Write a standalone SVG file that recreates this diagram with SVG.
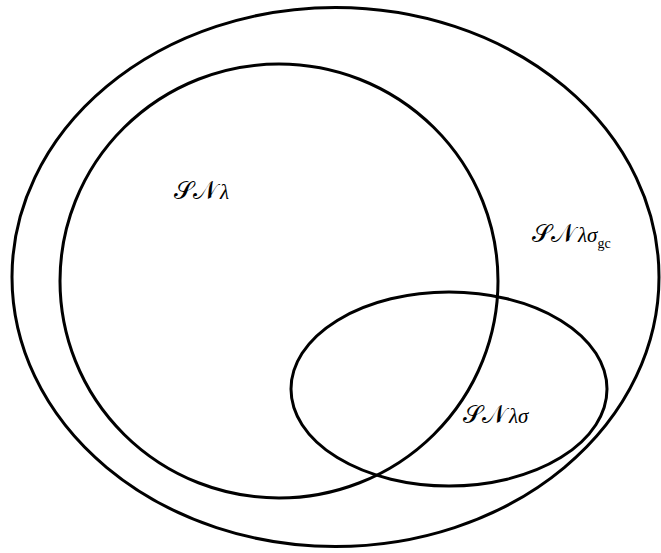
<svg xmlns="http://www.w3.org/2000/svg" width="661" height="553" viewBox="0 0 661 553">
<style>
.s{fill:none;stroke:#000;stroke-width:3}
.t{font-family:"DejaVu Serif","Liberation Serif",serif;font-size:25px;fill:#000}
.g{font-family:"Liberation Serif",serif;font-size:21px;font-style:italic}
.sub{font-family:"Liberation Serif",serif;font-size:14px}
</style>
<rect width="661" height="553" fill="#fff"/>
<g id="outer"><ellipse class="s" cx="335.5" cy="277" rx="323.5" ry="269.5"/><text class="t" x="532" y="242">𝒮𝒩<tspan class="g" dx="3">λσ</tspan><tspan class="sub" dy="6">gc</tspan></text></g>
<g id="lambda"><ellipse class="s" cx="279" cy="281" rx="219" ry="217"/><text class="t" x="174" y="199">𝒮𝒩<tspan class="g" dx="3">λ</tspan></text></g>
<g id="sigma"><ellipse class="s" cx="449" cy="389" rx="158" ry="97"/><text class="t" x="463" y="423">𝒮𝒩<tspan class="g" dx="3">λσ</tspan></text></g>
<g id="connectors"/>
</svg>
